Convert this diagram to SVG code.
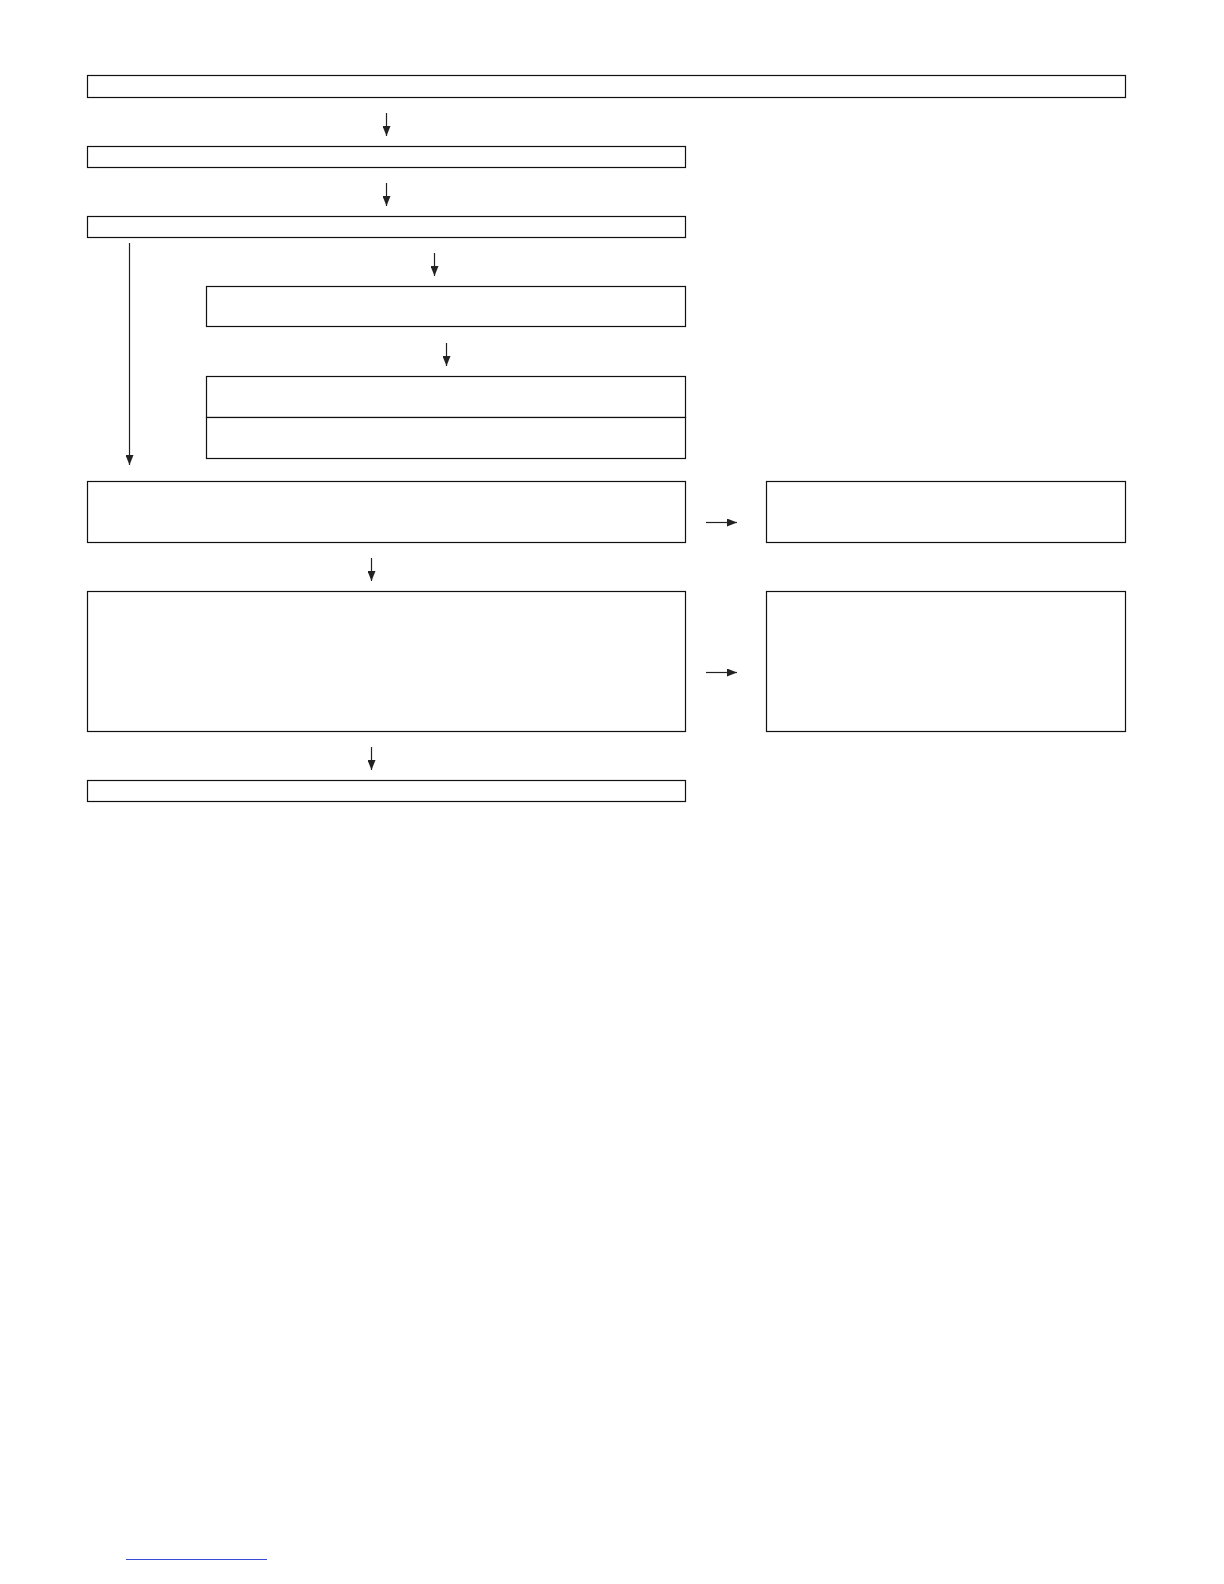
<svg xmlns="http://www.w3.org/2000/svg" width="1224" height="1584" viewBox="0 0 1224 1584">
<defs>
<marker id="ah" viewBox="0 0 10 8" refX="10" refY="4" markerWidth="10" markerHeight="8" markerUnits="userSpaceOnUse" orient="auto">
<path d="M0,0 L10,4 L0,8 Z" fill="#222"/>
</marker>
</defs>
<style>
.box{fill:#fff;stroke:#111;stroke-width:1.2}
.con{stroke:#222;stroke-width:1.2;fill:none;marker-end:url(#ah)}
</style>
<rect width="1224" height="1584" fill="#fff"/>
<g id="nodes">
<g id="n1"><rect class="box" x="87.5" y="75.5" width="1038" height="22"/></g>
<g id="n2"><rect class="box" x="87.5" y="146.5" width="598" height="21"/></g>
<g id="n3"><rect class="box" x="87.5" y="216.5" width="598" height="21"/></g>
<g id="n4"><rect class="box" x="206.5" y="286.5" width="479" height="40"/></g>
<g id="n5"><rect class="box" x="206.5" y="376.5" width="479" height="41"/></g>
<g id="n6"><rect class="box" x="206.5" y="417.5" width="479" height="41"/></g>
<g id="n7"><rect class="box" x="87.5" y="481.5" width="598" height="61"/></g>
<g id="n8"><rect class="box" x="766.5" y="481.5" width="359" height="61"/></g>
<g id="n9"><rect class="box" x="87.5" y="591.5" width="598" height="140"/></g>
<g id="n10"><rect class="box" x="766.5" y="591.5" width="359" height="140"/></g>
<g id="n11"><rect class="box" x="87.5" y="780.5" width="598" height="21"/></g>
</g>
<g id="connectors">
<line class="con" x1="386.5" y1="113" x2="386.5" y2="136"/>
<line class="con" x1="386.5" y1="183" x2="386.5" y2="206"/>
<line class="con" x1="129.5" y1="243" x2="129.5" y2="465"/>
<line class="con" x1="434.5" y1="253" x2="434.5" y2="276"/>
<line class="con" x1="446.5" y1="343" x2="446.5" y2="366"/>
<line class="con" x1="706" y1="522.5" x2="737" y2="522.5"/>
<line class="con" x1="371.5" y1="558" x2="371.5" y2="581"/>
<line class="con" x1="706" y1="672.5" x2="737" y2="672.5"/>
<line class="con" x1="371.5" y1="747" x2="371.5" y2="770"/>
</g>
<line x1="126" y1="1559.5" x2="267" y2="1559.5" stroke="#3a4bd8" stroke-width="1"/>
</svg>
